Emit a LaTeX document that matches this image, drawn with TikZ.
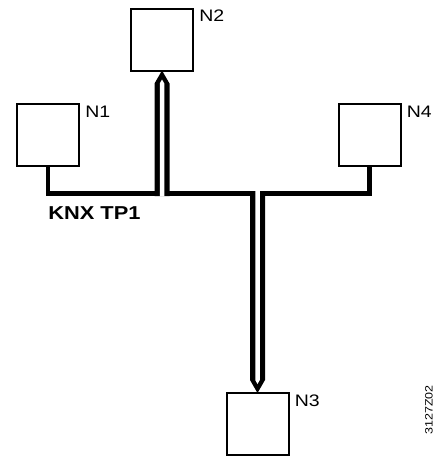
\documentclass[tikz,border=0pt]{standalone}
\usepackage{fontspec}
\setmainfont[FakeStretch=1.17]{Liberation Sans}
\usetikzlibrary{calc}

\begin{document}
\begin{tikzpicture}[
  x=0.75pt, y=-0.75pt,
  font=\fontsize{12.5}{15}\selectfont,
  every node/.style={align=center},
  station/.style={draw, line width=1.5pt, minimum width=46.5pt,
    minimum height=46.5pt, inner sep=0pt, outer sep=0pt},
  tag/.style={anchor=north west, inner sep=0pt},
  bus/.style={line width=3.6pt, line join=miter},
]
\useasboundingbox (0,0) rectangle (438,457);

% bus devices
\node[station] (n1) at (48,134.5) {};
\node[station] (n2) at (162,39.5) {};
\node[station] (n4) at (369.5,134.5) {};
\node[station] (n3) at (257.5,424) {};

\node[tag] (l1) at ($(n1.north east)+(6,2.5)$) {N1};
\node[tag] (l2) at ($(n2.north east)+(6,1.5)$) {N2};
\node[tag] (l4) at ($(n4.north east)+(6,2.5)$) {N4};
\node[tag] (l3) at ($(n3.north east)+(6,2)$) {N3};

% bus line
\coordinate (bus) at (0,193.5);
\coordinate (bustop) at (0,191);
\coordinate (busbot) at (0,196);
\draw[bus] (n1.south) -- (n1.south |- bus) -- (n4.south |- bus) -- (n4.south);

% branch up to N2
\fill[black] (n2.south) -- ++(7.5,13) -- ($(n2.south |- busbot)+(7.5,0)$)
  -- ++(-15,0) -- ($(n2.south)+(-7.5,13)$) -- cycle;
\fill[white] ($(n2.south)+(0,9)$) -- ++(2.25,3.9) -- ($(n2.south |- busbot)+(2.25,0.3)$)
  -- ++(-4.5,0) -- ($(n2.south)+(-2.25,12.9)$) -- cycle;

% branch down to N3
\fill[black] (n3.north) -- ++(7.5,-13) -- ($(n3.north |- bustop)+(7.5,0)$)
  -- ++(-15,0) -- ($(n3.north)+(-7.5,-13)$) -- cycle;
\fill[white] ($(n3.north)+(0,-9)$) -- ++(2.25,-3.9) -- ($(n3.north |- bustop)+(2.25,-0.3)$)
  -- ++(-4.5,0) -- ($(n3.north)+(-2.25,-12.9)$) -- cycle;

\node[tag, font=\bfseries\fontsize{14}{16}\selectfont] (medium) at (48,206) {KNX TP1};

\node[font=\fontsize{8}{10}\selectfont, rotate=90] (code) at (429,410) {3127Z02};

\end{tikzpicture}
\end{document}
